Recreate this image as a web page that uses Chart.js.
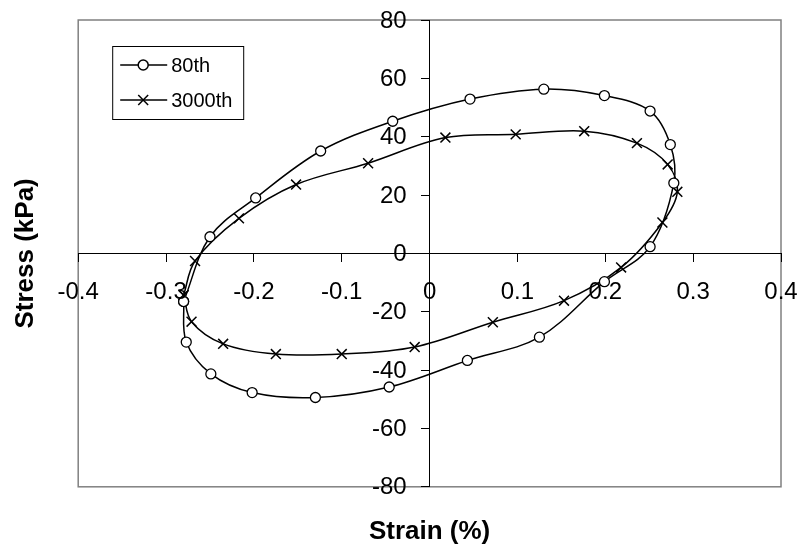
<!DOCTYPE html>
<html>
<head>
<meta charset="utf-8">
<script src="https://cdn.jsdelivr.net/npm/chart.js@4/dist/chart.umd.min.js"></script>
<style>
  html, body { margin: 0; padding: 0; background: #fff; }
  #wrap { width: 803px; height: 554px; }
</style>
</head>
<body>
<div id="wrap"><canvas id="loopChart"></canvas></div>
<script>
// hysteresis loops, cycle 80 and cycle 3000
const strain80 = [-0.280, -0.250, -0.198, -0.124, -0.042, 0.046, 0.130, 0.199, 0.251, 0.274, 0.278,
                  0.251, 0.199, 0.125, 0.043, -0.046, -0.130, -0.202, -0.249, -0.277, -0.280];
const stress80 = [-16.5, 5.7, 19.0, 35.1, 45.3, 52.9, 56.3, 54.1, 48.8, 37.3, 24.1,
                  2.3, -9.7, -28.7, -36.7, -45.8, -49.4, -47.7, -41.3, -30.4, -16.5];

const strain3000 = [-0.280, -0.267, -0.217, -0.152, -0.070, 0.018, 0.098, 0.176, 0.236, 0.271, 0.282,
                    0.265, 0.218, 0.153, 0.072, -0.017, -0.100, -0.175, -0.235, -0.271, -0.280];
const stress3000 = [-14.3, -2.6, 12.0, 23.6, 30.9, 39.7, 40.8, 41.9, 37.8, 30.5, 21.1,
                    10.6, -4.8, -16.2, -23.6, -32.1, -34.5, -34.5, -31.0, -23.4, -14.3];

const strainTicks = [-0.4, -0.3, -0.2, -0.1, 0, 0.1, 0.2, 0.3, 0.4];
const stressTicks = [-80, -60, -40, -20, 0, 20, 40, 60, 80];

const seriesNames = ['80th', '3000th'];

const toPoints = (xs, ys) => xs.map((x, i) => ({ x: x, y: ys[i] }));

const FONT = 'Liberation Sans, Arial, sans-serif';
const TICK_SIZE = 24;

// grey box round the plot area
const framePlugin = {
  id: 'frame',
  beforeDraw(chart) {
    const { ctx, chartArea: a } = chart;
    ctx.save();
    ctx.fillStyle = '#fff';
    ctx.fillRect(0, 0, chart.width, chart.height);
    ctx.strokeStyle = '#808080';
    ctx.lineWidth = 1.5;
    ctx.strokeRect(a.left, a.top, a.right - a.left, a.bottom - a.top);
    ctx.restore();
  }
};

// tick labels for the two axes that cross at the origin:
// stress labels left of the y ticks, strain labels below the x ticks
const axisLabels = {
  id: 'axisLabels',
  afterDraw(chart) {
    const { ctx, scales: { x, y } } = chart;
    const x0 = x.getPixelForValue(0);
    const y0 = y.getPixelForValue(0);
    ctx.save();
    ctx.fillStyle = '#000';
    ctx.font = TICK_SIZE + 'px ' + FONT;
    ctx.textBaseline = 'middle';
    ctx.textAlign = 'right';
    y.ticks.forEach(t => {
      ctx.fillText(String(t.value), x0 - 23, y.getPixelForValue(t.value) + 1);
    });
    ctx.textAlign = 'center';
    x.ticks.forEach(t => {
      ctx.fillText(String(t.value), x.getPixelForValue(t.value), y0 + 39);
    });
    ctx.restore();
  }
};

// boxed legend in the upper left corner of the plot
const boxLegend = {
  id: 'boxLegend',
  afterDraw(chart) {
    const { ctx, chartArea: a } = chart;
    const left = a.left + 34, top = a.top + 26, w = 131, h = 73;
    ctx.save();
    ctx.fillStyle = '#fff';
    ctx.fillRect(left, top, w, h);
    ctx.strokeStyle = '#000';
    ctx.lineWidth = 1;
    ctx.strokeRect(left + 0.5, top + 0.5, w, h);
    chart.data.datasets.forEach((ds, i) => {
      const y = top + 19 + i * 35;
      ctx.strokeStyle = '#000';
      ctx.lineWidth = 1.5;
      ctx.beginPath();
      ctx.moveTo(left + 8, y);
      ctx.lineTo(left + 55, y);
      ctx.stroke();
      ctx.fillStyle = '#fff';
      Chart.helpers.drawPoint(ctx, {
        pointStyle: ds.pointStyle, radius: ds.pointRadius, borderWidth: ds.pointBorderWidth, rotation: 0
      }, left + 31, y);
      ctx.fillStyle = '#000';
      ctx.font = '20px ' + FONT;
      ctx.textBaseline = 'middle';
      ctx.textAlign = 'left';
      ctx.fillText(ds.label, left + 59, y + 1);
    });
    ctx.restore();
  }
};

const ctx = document.getElementById('loopChart').getContext('2d');

const loopChart = new Chart(ctx, {
  type: 'scatter',
  data: {
    datasets: [{
      label: seriesNames[0],
      data: toPoints(strain80, stress80),
      showLine: true,
      tension: 0.35,
      borderColor: '#000',
      borderWidth: 1.5,
      pointStyle: 'circle',
      pointRadius: 5,
      pointBorderWidth: 1.3,
      pointBackgroundColor: '#fff',
      pointBorderColor: '#000'
    }, {
      label: seriesNames[1],
      data: toPoints(strain3000, stress3000),
      showLine: true,
      tension: 0.35,
      borderColor: '#000',
      borderWidth: 1.5,
      pointStyle: 'crossRot',
      pointRadius: 7,
      pointBorderWidth: 1.5,
      pointBackgroundColor: '#fff',
      pointBorderColor: '#000'
    }]
  },
  options: {
    responsive: true,
    maintainAspectRatio: false,
    animation: false,
    layout: { padding: { left: 0, right: 22, top: 20, bottom: 0 } },
    scales: {
      x: {
        type: 'linear',
        position: { y: 0 },
        min: -0.4,
        max: 0.4,
        afterBuildTicks: s => { s.ticks = strainTicks.map(v => ({ value: v })); },
        grid: { drawOnChartArea: false, drawTicks: true, tickLength: 8, tickColor: '#000', tickWidth: 1 },
        border: { display: true, color: '#000', width: 1 },
        ticks: { display: false }
      },
      y: {
        type: 'linear',
        position: { x: 0 },
        min: -80,
        max: 80,
        afterBuildTicks: s => { s.ticks = stressTicks.map(v => ({ value: v })); },
        grid: { drawOnChartArea: false, drawTicks: true, tickLength: 8, tickColor: '#000', tickWidth: 1 },
        border: { display: true, color: '#000', width: 1 },
        ticks: { display: false }
      }
    },
    plugins: {
      legend: { display: false },
      tooltip: { enabled: false },
      title: {
        display: true,
        text: 'Stress (kPa)',
        position: 'left',
        fullSize: false,
        color: '#000',
        font: { family: FONT, size: 26, weight: 'bold' },
        padding: { top: 10, bottom: 37 }
      },
      subtitle: {
        display: true,
        text: 'Strain (%)',
        position: 'bottom',
        fullSize: false,
        color: '#000',
        font: { family: FONT, size: 26, weight: 'bold' },
        padding: { top: 29, bottom: 7 }
      }
    }
  },
  plugins: [framePlugin, axisLabels, boxLegend]
});
</script>
</body>
</html>
